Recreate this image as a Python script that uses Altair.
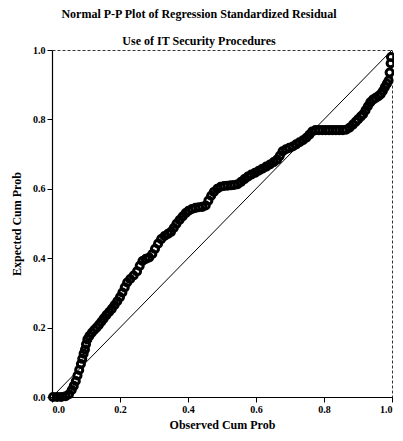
import altair as alt
import pandas as pd

observed = [0.003, 0.015, 0.027, 0.040, 0.050, 0.058, 0.064, 0.070, 0.075, 0.080,
            0.085, 0.089, 0.093, 0.097, 0.100, 0.104, 0.110, 0.117, 0.124, 0.131,
            0.138, 0.145, 0.152, 0.160, 0.168, 0.176, 0.184, 0.192, 0.200, 0.207,
            0.214, 0.221, 0.230, 0.240, 0.250, 0.258, 0.266, 0.276, 0.286, 0.295,
            0.303, 0.312, 0.321, 0.331, 0.341, 0.350, 0.358, 0.366, 0.375, 0.384,
            0.393, 0.402, 0.412, 0.422, 0.432, 0.442, 0.452, 0.460, 0.468, 0.476,
            0.486, 0.496, 0.506, 0.516, 0.526, 0.536, 0.546, 0.556, 0.566, 0.576,
            0.586, 0.597, 0.608, 0.619, 0.630, 0.641, 0.652, 0.662, 0.670, 0.678,
            0.688, 0.698, 0.708, 0.718, 0.728, 0.738, 0.748, 0.757, 0.765, 0.775,
            0.785, 0.795, 0.805, 0.815, 0.825, 0.835, 0.845, 0.855, 0.865, 0.875,
            0.885, 0.893, 0.900, 0.908, 0.915, 0.922, 0.929, 0.936, 0.944, 0.952,
            0.960, 0.967, 0.973, 0.979, 0.985, 0.990, 0.993, 0.996, 0.997]
expected = [0.000, 0.000, 0.000, 0.002, 0.008, 0.020, 0.032, 0.046, 0.062, 0.078,
            0.095, 0.110, 0.125, 0.137, 0.152, 0.166, 0.176, 0.185, 0.193, 0.200,
            0.208, 0.217, 0.226, 0.236, 0.245, 0.254, 0.265, 0.276, 0.288, 0.301,
            0.316, 0.330, 0.340, 0.350, 0.362, 0.378, 0.392, 0.398, 0.402, 0.412,
            0.427, 0.442, 0.455, 0.464, 0.470, 0.476, 0.487, 0.499, 0.510, 0.520,
            0.530, 0.537, 0.542, 0.545, 0.547, 0.548, 0.552, 0.566, 0.580, 0.591,
            0.600, 0.606, 0.608, 0.609, 0.610, 0.611, 0.613, 0.620, 0.628, 0.635,
            0.641, 0.646, 0.652, 0.658, 0.664, 0.670, 0.677, 0.684, 0.695, 0.708,
            0.714, 0.718, 0.722, 0.728, 0.734, 0.740, 0.747, 0.756, 0.765, 0.769,
            0.769, 0.769, 0.769, 0.769, 0.769, 0.769, 0.769, 0.769, 0.770, 0.776,
            0.785, 0.793, 0.800, 0.808, 0.815, 0.826, 0.838, 0.849, 0.857, 0.862,
            0.867, 0.873, 0.882, 0.893, 0.903, 0.912, 0.935, 0.962, 0.980]

ref_x = [0.0, 1.0]
ref_y = [0.0, 1.0]
tick_values = [0.0, 0.2, 0.4, 0.6, 0.8, 1.0]

pts = pd.DataFrame({"obs": observed, "exp": expected})
diag = pd.DataFrame({"obs": ref_x, "exp": ref_y})

FONT = "Liberation Serif"

xenc = alt.X("obs:Q", title="Observed Cum Prob",
             scale=alt.Scale(domain=[0, 1], nice=False, zero=False),
             axis=alt.Axis(values=tick_values, format=".1f", grid=False,
                           titlePadding=5))
yenc = alt.Y("exp:Q", title="Expected Cum Prob",
             scale=alt.Scale(domain=[0, 1], nice=False, zero=False),
             axis=alt.Axis(values=tick_values, format=".1f", grid=False,
                           titlePadding=9))

line = alt.Chart(diag).mark_line(color="black", strokeWidth=1).encode(x=xenc, y=yenc)
points = alt.Chart(pts).mark_point(filled=False, color="black", size=50,
                                   strokeWidth=3, opacity=1).encode(x=xenc, y=yenc)

chart = (line + points).properties(
    width=340, height=347,
    autosize=alt.AutoSizeParams(type="none"),
    padding={"left": 44, "top": 42, "right": 2, "bottom": 34},
    title=alt.TitleParams(
        text="Normal P-P Plot of Regression Standardized Residual",
        subtitle="Use of IT Security Procedures",
        font=FONT, fontSize=12, fontWeight="bold", color="black",
        subtitleFont=FONT, subtitleFontSize=12, subtitleFontWeight="bold",
        subtitleColor="black", subtitlePadding=15, offset=-3, dx=-23,
        anchor="middle"),
).configure_view(
    stroke="#333", strokeWidth=1, strokeDash=[3, 2]
).configure_axis(
    domainColor="black", tickColor="black", domainWidth=1.2, tickSize=5,
    labelFont=FONT, labelFontSize=10, labelFontWeight="bold", labelColor="black",
    titleFont=FONT, titleFontSize=12, titleFontWeight="bold", titleColor="black",
    labelPadding=2
)

chart.save("out.html", embed_options={"renderer": "svg", "actions": False})
